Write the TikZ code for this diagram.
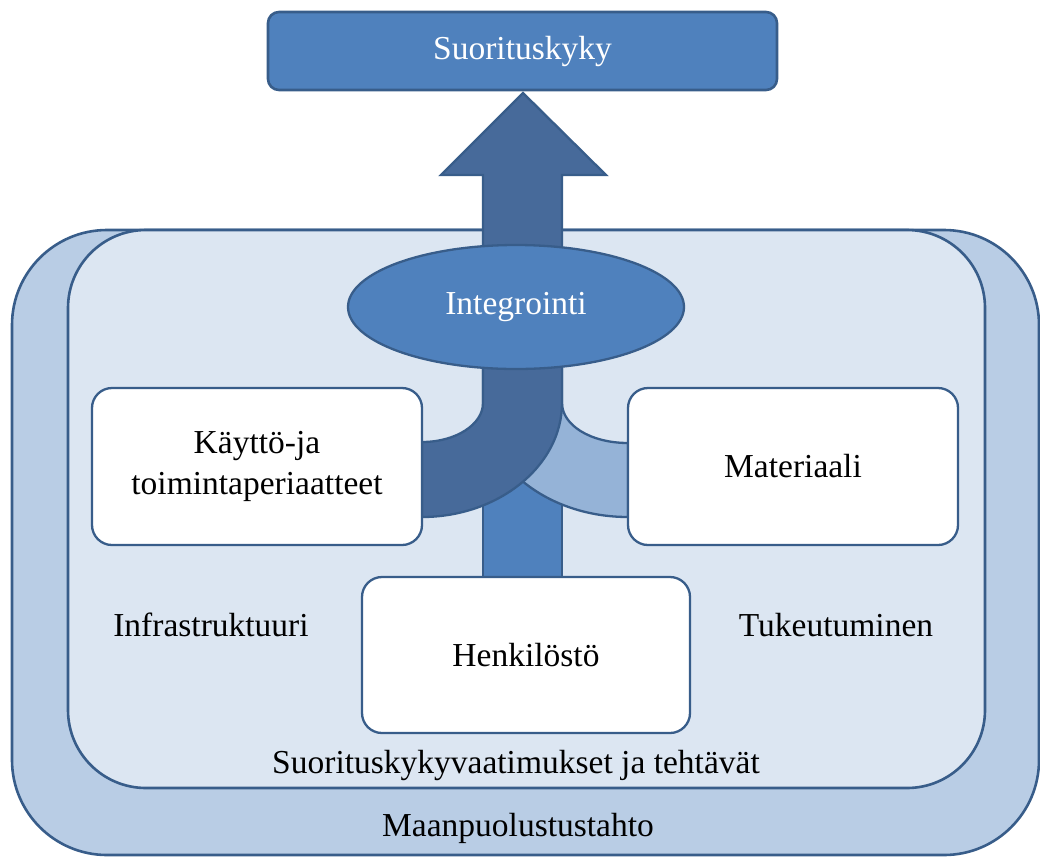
\documentclass[tikz,border=0pt]{standalone}
\usepackage{fontspec}
\setmainfont{Liberation Serif}
\usetikzlibrary{shapes.geometric}
\definecolor{accent}{HTML}{4F81BD}
\definecolor{edge}{HTML}{385D8A}
\definecolor{deep}{HTML}{476A9A}
\definecolor{pale}{HTML}{95B3D7}
\definecolor{panel}{HTML}{DCE6F2}
\definecolor{frame}{HTML}{B9CDE5}
\begin{document}
\begin{tikzpicture}[x=1pt,y=-1pt,
  txt/.style={font=\fontsize{33.5}{41}\selectfont, inner sep=0pt},
  layer/.style={draw=edge, line width=2.6pt, inner sep=0pt},
  card/.style={draw=edge, fill=white, line width=2.3pt, rounded corners=20pt,
    minimum width=330pt, minimum height=157pt, align=center, inner sep=0pt, txt},
  band/.style={draw=edge, line width=2.3pt, line join=round}]
\useasboundingbox (0,0) rectangle (1040,857);

% nested background panels
\node[layer, fill=frame, rounded corners=95pt, minimum width=1027pt, minimum height=625pt]
  (outer) at (525.5,542.5) {};
\node[layer, fill=panel, rounded corners=78pt, minimum width=917pt, minimum height=558pt]
  (inner) at (526.5,509) {};

\node[txt] (infra) at (211,625) {Infrastruktuuri};
\node[txt] (tuki) at (836,625) {Tukeutuminen};
\node[txt] (vaat) at (516,765) {Suorituskykyvaatimukset ja tehtävät};
\node[txt] (tahto) at (518,828) {Maanpuolustustahto};

% personnel shaft
\draw[band, fill=accent] (483,430) rectangle (562,577);

% material band, curving up into the shaft
\draw[band, fill=pale] (562,330) -- (562,403)
  .. controls (562,425) and (590.4,443) .. (628,443)
  -- (628,517)
  .. controls (548,517) and (483,466) .. (483,403)
  -- (483,330) -- cycle;

% doctrine band, curving up into the shaft
\draw[band, fill=deep] (483,330) -- (483,403)
  .. controls (483,424.5) and (455.7,442) .. (422,442)
  -- (422,517)
  .. controls (498.2,517) and (562,466) .. (562,403)
  -- (562,330) -- cycle;

% upward arrow towards the capability box
\draw[band, fill=deep, line join=miter] (483,320) -- (483,175) -- (441,175) -- (523,93)
  -- (606,175) -- (562,175) -- (562,320) -- cycle;

\node[draw=edge, fill=accent, line width=2.3pt, ellipse, minimum width=336pt,
  minimum height=124pt, inner sep=0pt, txt, text=white] (integ) at (516,307) {Integrointi};

\node[card] (kaytto) at (257,466.5) {Käyttö-ja\\toimintaperiaatteet};
\node[card] (mat) at (793,466.5) {Materiaali};
\node[card, minimum width=328pt, minimum height=156pt] (henk) at (526,655) {Henkilöstö};

\node[draw=edge, fill=accent, line width=2.6pt, rounded corners=11pt,
  minimum width=509pt, minimum height=78pt, inner sep=0pt, txt, text=white]
  (kyky) at (522.5,51) {Suorituskyky};
\end{tikzpicture}
\end{document}
